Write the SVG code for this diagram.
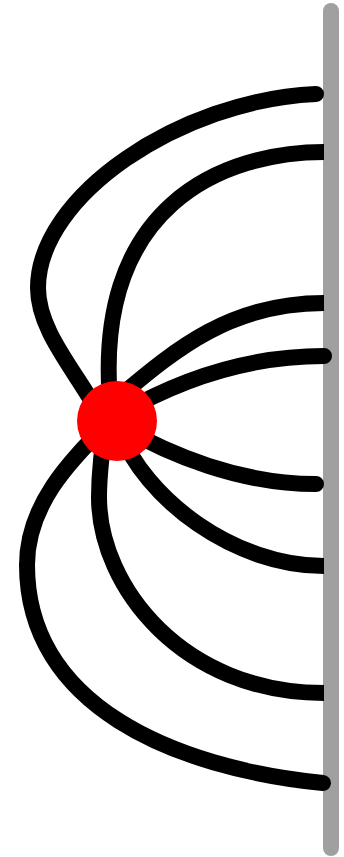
<svg xmlns="http://www.w3.org/2000/svg" width="344" height="857" viewBox="0 0 344 857">
<style>
.c{fill:none;stroke:#000;stroke-width:16;stroke-linecap:round;stroke-linejoin:round}
.b{stroke-linecap:butt}
.bar{fill:none;stroke:#a0a0a0;stroke-width:16;stroke-linecap:round}
</style>
<rect width="344" height="857" fill="#fff"/>
<g id="wall"><line class="bar" x1="331" y1="11" x2="331" y2="848"/></g>
<g id="connectors">
<path class="c" d="M103,421 C79,374 38,333 38,288 C38,196 180,100 316,94"/>
<path class="c b" d="M112,421 C85,200 230,152 324,152"/>
<path class="c b" d="M120,396 C175,350 230,303 324,303"/>
<path class="c" d="M120,414 C170,385 240,356 324,356"/>
<path class="c" d="M120,426 C170,455 240,484 316,484"/>
<path class="c b" d="M118,428 C145,500 235,566 324,566"/>
<path class="c b" d="M106,421 C102,450 99,472 99,497 C99,587 183,693 324,693"/>
<path class="c" d="M105,426 C70,461 27,505 27,565 C27,705 173,768 323,783"/>
</g>
<g id="source"><circle cx="117" cy="421" r="40" fill="#f00"/></g>
</svg>
